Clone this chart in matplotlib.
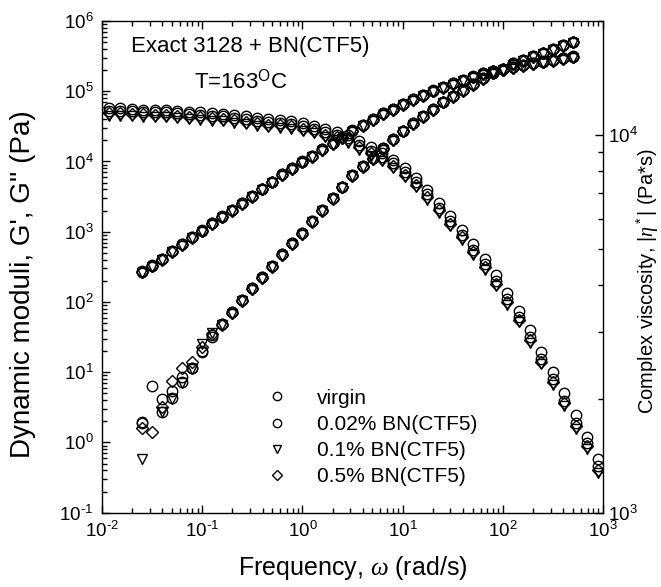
import numpy as np
import matplotlib
matplotlib.use("Agg")
import matplotlib.pyplot as plt
from matplotlib.ticker import LogLocator, NullFormatter, FuncFormatter

plt.rcParams["font.family"] = ["Liberation Sans", "DejaVu Sans"]
plt.rcParams["mathtext.fontset"] = "custom"
plt.rcParams["mathtext.rm"] = "Liberation Sans"
plt.rcParams["mathtext.it"] = "Liberation Serif:italic"
plt.rcParams["mathtext.bf"] = "Liberation Sans:bold"

# frequency sweep (rad/s)
freq = [0.0251, 0.0316, 0.0398, 0.0501, 0.0631, 0.0794, 0.1, 0.126, 0.158, 0.2,
        0.251, 0.316, 0.398, 0.501, 0.631, 0.794, 1.0, 1.26, 1.58, 2.0,
        2.51, 3.16, 3.98, 5.01, 6.31, 7.94, 10.0, 12.6, 15.8, 20.0,
        25.1, 31.6, 39.8, 50.1, 63.1, 79.4, 100.0, 126.0, 158.0, 200.0,
        251.0, 316.0, 398.0, 501.0]

labels = ["virgin", "0.02% BN(CTF5)", "0.1% BN(CTF5)", "0.5% BN(CTF5)"]
markers = ["o", "o", "v", "D"]
msizes = [7.5, 7.5, 7, 6]

# storage modulus G' (Pa)
g1_virgin = [1.9, 6.4, 4.1, 5.4, 8.6, 11.6, 19.6, 33.9, 48.5, 71.3,
             106.7, 156.7, 224.4, 325.1, 477.5, 683.9, 950.6, 1413, 2042, 3020,
             4365, 6397, 8630, 11090, 15420, 20700, 27480, 34990, 44460, 55340,
             70960, 85510, 104300, 126800, 153100, 183700, 205600, 250000, 278600, 317700,
             354000, 399900, 456000, 508200]
g1_002 = [1.95, np.nan, 2.75, 4.3, 7.2, 11.5, 20.0, 32.1, 48.5, 71.3,
          106.7, 156.7, 224.4, 325.1, 477.5, 683.9, 950.6, 1413, 2042, 3020,
          4365, 6397, 8630, 11090, 15420, 20700, 27480, 34990, 44460, 55340,
          70960, 85510, 104300, 126800, 153100, 183700, 205600, 250000, 278600, 317700,
          354000, 399900, 456000, 508200]
g1_01 = [0.59, np.nan, 2.7, 4.2, 7.0, 11.2, 25.1, 35.8, 46.6, 68.5,
         102.4, 150.4, 215.4, 312.1, 458.4, 656.5, 912.6, 1356, 1960, 2899,
         4190, 6141, 8285, 10650, 14800, 19870, 26380, 33590, 42680, 53130,
         68120, 82090, 100100, 121700, 147000, 176400, 197400, 240000, 267500, 305000,
         339800, 383900, 437800, 487900]
g1_05 = [1.62, 1.40, 3.2, 7.5, 11.6, 13.8, 22.9, 35.5, 47.5, 69.9,
         104.6, 153.6, 219.9, 318.6, 468.0, 670.2, 931.6, 1385, 2001, 2960,
         4278, 6269, 8457, 10870, 15110, 20290, 26930, 34290, 43570, 54230,
         69540, 83800, 102200, 124300, 150000, 180000, 201500, 245000, 273000, 311300,
         346900, 391900, 446900, 498000]

# loss modulus G'' (Pa)
g2_virgin = [269, 329, 407, 532, 661, 841, 1035, 1318, 1637, 2042,
             2541, 3236, 4074, 5129, 6577, 7998, 9931, 11970, 14930, 18160,
             22130, 27480, 33110, 39900, 48530, 55340, 65770, 76740, 88510, 101900,
             114800, 129700, 144500, 161100, 180300, 195000, 207500, 219300, 236600, 250000,
             263000, 278600, 294400, 310500]
g2_002 = [272, 333, 411, 537, 668, 849, 1045, 1331, 1653, 2062,
          2566, 3268, 4115, 5180, 6643, 8078, 10030, 12090, 15080, 18340,
          22350, 27750, 33440, 40300, 49020, 55890, 66430, 77510, 89400, 102900,
          115900, 131000, 145900, 162700, 182100, 197000, 209600, 221500, 239000, 252500,
          265600, 281400, 297300, 313600]
g2_01 = [258, 316, 391, 511, 635, 807, 994, 1265, 1572, 1960,
         2439, 3107, 3911, 4924, 6314, 7678, 9534, 11490, 14330, 17430,
         21240, 26380, 31790, 38300, 46590, 53130, 63140, 73670, 84970, 97820,
         110200, 124500, 138700, 154700, 173100, 187200, 199200, 210500, 227100, 240000,
         252500, 267500, 282600, 298100]
g2_05 = [263, 322, 399, 521, 648, 824, 1014, 1292, 1604, 2001,
         2490, 3171, 3993, 5026, 6445, 7838, 9732, 11730, 14630, 17800,
         21690, 26930, 32450, 39100, 47560, 54230, 64450, 75210, 86740, 99860,
         112500, 127100, 141600, 157900, 176700, 191100, 203400, 214900, 231900, 245000,
         257700, 273000, 288500, 304300]

# complex viscosity |eta*| (Pa*s)
eta_virgin = [11740, 11740, 11720, 11660, 11640, 11640, 11560, 11510, 11480, 11410,
              11360, 11250, 11180, 11080, 10980, 10930, 10860, 10720, 10570, 10340,
              10180, 9990, 9600, 9270, 8950, 8600, 8150, 7680, 7140, 6600,
              6080, 5610, 5130, 4700, 4250, 3810, 3420, 3040, 2660, 2360,
              2070, 1810, 1590, 1390]
eta_002 = [11570, 11570, 11550, 11490, 11470, 11470, 11390, 11340, 11310, 11240,
           11190, 11070, 11000, 10900, 10800, 10750, 10680, 10540, 10380, 10150,
           9990, 9800, 9410, 9080, 8760, 8400, 7950, 7490, 6950, 6410,
           5900, 5440, 4960, 4540, 4100, 3670, 3290, 2920, 2550, 2260,
           1980, 1730, 1525, 1325]
eta_01 = [11230, 11230, 11210, 11150, 11130, 11130, 11050, 11000, 10970, 10900,
          10850, 10750, 10680, 10580, 10480, 10430, 10360, 10220, 10080, 9850,
          9690, 9510, 9130, 8810, 8500, 8150, 7710, 7260, 6740, 6220,
          5720, 5280, 4810, 4400, 3970, 3550, 3190, 2820, 2470, 2180,
          1910, 1670, 1470, 1275]
eta_05 = [11400, 11400, 11380, 11320, 11300, 11300, 11220, 11170, 11140, 11070,
          11020, 10910, 10840, 10740, 10640, 10590, 10520, 10380, 10230, 10000,
          9840, 9660, 9270, 8950, 8630, 8280, 7830, 7380, 6850, 6320,
          5810, 5360, 4890, 4470, 4040, 3610, 3240, 2870, 2510, 2220,
          1950, 1700, 1500, 1300]

g1_all = [g1_virgin, g1_002, g1_01, g1_05]
g2_all = [g2_virgin, g2_002, g2_01, g2_05]
eta_all = [eta_virgin, eta_002, eta_01, eta_05]


def decade_label(v, pos):
    # 10^n with a short hyphen like the original
    n = int(round(np.log10(v)))
    exp = str(n).replace("-", "\u2010")
    return r"$\mathdefault{10^{%s}}$" % exp


fig = plt.figure(figsize=(6.61, 5.87), dpi=100)
ax = fig.add_axes([0.1543, 0.1266, 0.758, 0.8376])
ax2 = fig.add_axes(ax.get_position(), frameon=False)

style = dict(linestyle="none", markerfacecolor="none", markeredgecolor="black",
             markeredgewidth=1.0)
handles = []
for i in range(4):
    h, = ax.plot(freq, g1_all[i], marker=markers[i], markersize=msizes[i],
                 label=labels[i], **style)
    ax.plot(freq, g2_all[i], marker=markers[i], markersize=msizes[i], **style)
    ax2.plot(freq, eta_all[i], marker=markers[i], markersize=msizes[i], **style)
    handles.append(h)

ax.set_xscale("log")
ax.set_yscale("log")
ax.set_xlim(1e-2, 1e3)
ax.set_ylim(1e-1, 1e6)
ax.xaxis.set_major_locator(LogLocator(base=10, numticks=20))
ax.yaxis.set_major_locator(LogLocator(base=10, numticks=20))
ax.xaxis.set_minor_locator(LogLocator(base=10, subs=np.arange(2, 10), numticks=20))
ax.yaxis.set_minor_locator(LogLocator(base=10, subs=np.arange(2, 10), numticks=20))
ax.xaxis.set_major_formatter(FuncFormatter(decade_label))
ax.yaxis.set_major_formatter(FuncFormatter(decade_label))
ax.tick_params(which="both", direction="in", top=True, right=False,
               labelsize=13.5, width=1.0, pad=6)
ax.tick_params(which="major", length=6)
ax.tick_params(which="minor", length=3.5)
for s in ax.spines.values():
    s.set_linewidth(1.0)

# eta* axis: own x range (as in the original), only the right y axis shown
ax2.set_xscale("log")
ax2.set_yscale("log")
ax2.set_xlim(0.0218, 551)
ax2.set_ylim(1e3, 2e4)
ax2.xaxis.set_visible(False)
ax2.yaxis.tick_right()
ax2.yaxis.set_label_position("right")
ax2.yaxis.set_major_formatter(FuncFormatter(decade_label))
ax2.yaxis.set_minor_formatter(NullFormatter())
ax2.tick_params(axis="y", which="both", direction="in", labelsize=13.5, width=1.0, pad=3.5)
ax2.tick_params(axis="y", which="major", length=6)
ax2.tick_params(axis="y", which="minor", length=3.5)

ax.set_xlabel(r"Frequency, $\omega$ (rad/s)", fontsize=18)
ax.xaxis.set_label_coords(0.5, -0.085)
ax.set_ylabel("Dynamic moduli, G', G'' (Pa)", fontsize=20)
ax.yaxis.set_label_coords(-0.132, 0.465)
ax2.set_ylabel(r"Complex viscosity, |$\eta^*$| (Pa*s)", fontsize=14.5)
ax2.yaxis.set_label_coords(1.063, 0.47)

ax.text(0.2954, 0.9363, "Exact 3128 + BN(CTF5)", transform=ax.transAxes,
        ha="center", va="baseline", fontsize=16)
ax.text(0.2774, 0.8631, r"T=163$^\mathrm{O}$C", transform=ax.transAxes,
        ha="center", va="baseline", fontsize=16)

ax.legend(handles=handles, loc="upper left", bbox_to_anchor=(0.329, 0.252),
          frameon=False, fontsize=15, handlelength=1.0, handletextpad=1.4,
          labelspacing=0.34, borderpad=0, borderaxespad=0, markerscale=0.8)

fig.savefig("out.png", dpi=100)
